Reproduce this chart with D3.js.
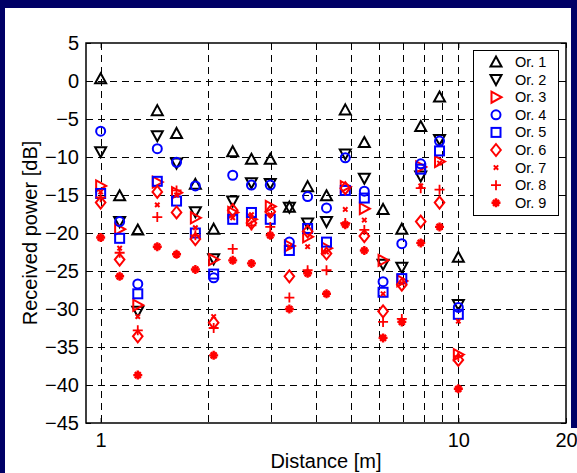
<!DOCTYPE html>
<html>
<head>
<meta charset="utf-8">
<script src="https://cdn.jsdelivr.net/npm/d3@7/dist/d3.min.js"></script>
<style>
  html, body { margin: 0; padding: 0; background: #000066; }
  svg { display: block; }
  text { font-family: Arial, "Liberation Sans", Helvetica, sans-serif; }
</style>
</head>
<body>
<svg id="chart" width="577" height="473"></svg>
<script>
// Measurement distances [m]
const distance = [1, 1.13, 1.27, 1.44, 1.63, 1.84, 2.07, 2.34, 2.64, 2.98,
                  3.37, 3.79, 4.28, 4.83, 5.46, 6.16, 6.95, 7.85, 8.86, 10];

// Received power [dB] for each orientation
const or1 = [0.3, -15.1, -19.6, -3.9, -6.9, -13.6, -19.5, -9.3, -10.3, -10.3, -16.6, -13.9, -15.1, -3.8, -8.1, -16.9, -19.5, -6.0, -2.1, -23.2];
const or2 = [-9.3, -18.5, -30.3, -7.2, -10.8, -17.2, -23.4, -15.8, -13.4, -13.5, -16.6, -18.7, -18.5, -9.6, -12.8, -24.1, -24.5, -12.5, -7.7, -29.4];
const or3 = [-13.8, -19.5, -29.5, -13.3, -14.7, -18.0, -23.5, -17.3, -18.2, -16.5, -21.7, -20.5, -22.0, -13.9, -16.8, -23.6, -26.3, -11.3, -10.6, -36.0];
const or4 = [-6.6, -18.5, -26.7, -8.9, -10.7, -13.8, -25.9, -12.4, -13.7, -13.7, -21.2, -15.2, -16.7, -10.1, -14.5, -26.4, -21.4, -10.9, -7.9, -29.8];
const or5 = [-14.8, -20.7, -28.0, -13.2, -15.8, -20.0, -25.4, -18.2, -17.3, -18.2, -22.3, -19.4, -21.2, -14.4, -15.4, -27.8, -26.0, -11.6, -9.2, -30.7];
const or6 = [-16.0, -23.5, -33.6, -14.6, -17.3, -20.8, -31.8, -17.0, -18.7, -17.2, -25.7, -19.8, -22.7, -14.1, -20.4, -30.3, -26.8, -18.5, -16.0, -36.7];
const or7 = [-14.6, -22.0, -31.0, -16.3, -15.0, -19.3, -31.0, -18.0, -17.6, -17.6, -21.8, -21.8, -22.5, -16.9, -18.3, -28.0, -26.6, -13.8, -10.8, -31.6];
const or8 = [-15.3, -22.6, -32.8, -17.9, -14.4, -20.3, -32.5, -22.1, -19.0, -19.2, -28.5, -24.9, -24.9, -18.7, -19.6, -31.7, -31.3, -14.1, -14.3, -36.2];
const or9 = [-20.6, -25.7, -38.7, -21.8, -22.8, -24.8, -36.1, -23.6, -24.0, -20.3, -30.0, -25.3, -28.0, -18.9, -22.3, -33.8, -31.7, -21.3, -19.2, -40.5];

const seriesNames = ["Or. 1", "Or. 2", "Or. 3", "Or. 4", "Or. 5", "Or. 6", "Or. 7", "Or. 8", "Or. 9"];
const seriesColors = ["#000000", "#000000", "#ff0000", "#0000ff", "#0000ff", "#ff0000", "#ff0000", "#ff0000", "#ff0000"];
const seriesMarkers = ["triUp", "triDown", "triRight", "circle", "square", "diamond", "cross", "plus", "star"];
const seriesValues = [or1, or2, or3, or4, or5, or6, or7, or8, or9];

const yTicks = [5, 0, -5, -10, -15, -20, -25, -30, -35, -40, -45];
const xGrid = [1, 2, 3, 4, 5, 6, 7, 8, 9, 10];
const xTickLabels = [1, 10, 20];

const W = 577, H = 473;
const plot = { left: 86, right: 566, top: 43, bottom: 423 };

const svg = d3.select("#chart");

// navy frame with white panel
svg.append("rect").attr("x", 0).attr("y", 0).attr("width", W).attr("height", H).attr("fill", "#000066");
svg.append("rect").attr("x", 5).attr("y", 8).attr("width", 566).attr("height", H - 8).attr("fill", "#ffffff");
svg.append("rect").attr("x", 560).attr("y", 428).attr("width", W - 560).attr("height", H - 428).attr("fill", "#ffffff");

const x = d3.scaleLog().domain([0.91, 20]).range([plot.left, plot.right]);
const y = d3.scaleLinear().domain([-45, 5]).range([plot.bottom, plot.top]);

// dashed grid
const grid = svg.append("g").attr("stroke", "#000").attr("stroke-width", 1)
  .attr("stroke-dasharray", "7,5").attr("fill", "none");
grid.selectAll("line.h").data(yTicks.filter(v => v > -45 && v < 5)).join("line")
  .attr("x1", plot.left).attr("x2", plot.right)
  .attr("y1", d => Math.round(y(d)) + 0.5).attr("y2", d => Math.round(y(d)) + 0.5);
grid.selectAll("line.v").data(xGrid).join("line")
  .attr("y1", plot.top).attr("y2", plot.bottom)
  .attr("x1", d => Math.round(x(d)) + 0.5).attr("x2", d => Math.round(x(d)) + 0.5);

// axes (ticks inward, box on)
const tickLen = 5;
const axisLeft = d3.axisLeft(y).tickValues(yTicks).tickSize(-tickLen).tickPadding(7).tickFormat(d3.format("d"));
const axisRight = d3.axisRight(y).tickValues(yTicks).tickSize(-tickLen).tickFormat("");
const axisBottom = d3.axisBottom(x).tickValues(xTickLabels).tickSize(-tickLen).tickPadding(10).tickFormat(d3.format("d"));
const axisTop = d3.axisTop(x).tickValues(xTickLabels).tickSize(-tickLen).tickFormat("");

function styleAxis(g) {
  g.select(".domain").remove();
  g.selectAll(".tick line").attr("stroke", "#000").attr("stroke-width", 1);
  g.selectAll(".tick text").attr("fill", "#000").attr("font-size", 20)
    .attr("font-family", "Arial, 'Liberation Sans', sans-serif");
}
svg.append("g").attr("transform", `translate(${plot.left},0)`).call(axisLeft).call(styleAxis);
svg.append("g").attr("transform", `translate(${plot.right},0)`).call(axisRight).call(styleAxis);
svg.append("g").attr("transform", `translate(0,${plot.bottom})`).call(axisBottom).call(styleAxis);
svg.append("g").attr("transform", `translate(0,${plot.top})`).call(axisTop).call(styleAxis);

// plot box
svg.append("rect").attr("x", plot.left).attr("y", plot.top)
  .attr("width", plot.right - plot.left).attr("height", plot.bottom - plot.top)
  .attr("fill", "none").attr("stroke", "#000").attr("stroke-width", 1.5);

// axis titles
svg.append("text").attr("x", (plot.left + plot.right) / 2).attr("y", 468)
  .attr("text-anchor", "middle").attr("font-size", 20).text("Distance [m]");
svg.append("text").attr("transform", `translate(37,${(plot.top + plot.bottom) / 2}) rotate(-90)`)
  .attr("text-anchor", "middle").attr("font-size", 20).text("Received power [dB]");

// marker drawing
function drawMarker(g, type, color) {
  const sw = 2;
  switch (type) {
    case "triUp":
      g.append("path").attr("d", "M0,-5.5L5.5,4.5L-5.5,4.5Z").attr("fill", "none").attr("stroke", color).attr("stroke-width", sw); break;
    case "triDown":
      g.append("path").attr("d", "M0,5.5L5.5,-4.5L-5.5,-4.5Z").attr("fill", "none").attr("stroke", color).attr("stroke-width", sw); break;
    case "triRight":
      g.append("path").attr("d", "M5.5,0L-4.5,-5.5L-4.5,5.5Z").attr("fill", "none").attr("stroke", color).attr("stroke-width", sw); break;
    case "circle":
      g.append("circle").attr("r", 4.5).attr("fill", "none").attr("stroke", color).attr("stroke-width", sw); break;
    case "square":
      g.append("rect").attr("x", -4.5).attr("y", -4.5).attr("width", 9).attr("height", 9).attr("fill", "none").attr("stroke", color).attr("stroke-width", sw); break;
    case "diamond":
      g.append("path").attr("d", "M0,-6L4.8,0L0,6L-4.8,0Z").attr("fill", "none").attr("stroke", color).attr("stroke-width", sw); break;
    case "cross":
      g.append("path").attr("d", "M-2.2,-2.2L2.2,2.2M-2.2,2.2L2.2,-2.2").attr("stroke", color).attr("stroke-width", 2); break;
    case "plus":
      g.append("path").attr("d", "M-5,0L5,0M0,-5L0,5").attr("stroke", color).attr("stroke-width", 1.8); break;
    case "star":
      g.append("path").attr("d", "M-4.5,0L4.5,0M0,-4.5L0,4.5M-3,-3L3,3M-3,3L3,-3").attr("stroke", color).attr("stroke-width", 2.4); break;
  }
}

// data markers
seriesValues.forEach((vals, i) => {
  const layer = svg.append("g").attr("class", "series-" + (i + 1));
  vals.forEach((v, j) => {
    const g = layer.append("g").attr("transform", `translate(${x(distance[j])},${y(v)})`);
    drawMarker(g, seriesMarkers[i], seriesColors[i]);
  });
});

// legend
const legend = { x: 473.5, y: 50.5, w: 85, h: 165, row0: 62, rowStep: 17.6 };
svg.append("rect").attr("x", legend.x).attr("y", legend.y).attr("width", legend.w).attr("height", legend.h)
  .attr("fill", "#fff").attr("stroke", "#000").attr("stroke-width", 1);
seriesNames.forEach((name, i) => {
  const cy = legend.row0 + i * legend.rowStep;
  const g = svg.append("g").attr("transform", `translate(496,${cy})`);
  drawMarker(g, seriesMarkers[i], seriesColors[i]);
  svg.append("text").attr("x", 515).attr("y", cy + 5).attr("font-size", 14.5).attr("fill", "#000").text(name);
});
</script>
</body>
</html>
